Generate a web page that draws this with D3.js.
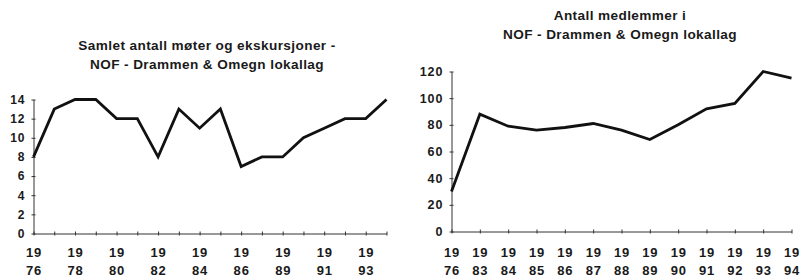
<!DOCTYPE html>
<html>
<head>
<meta charset="utf-8">
<script src="https://cdn.jsdelivr.net/npm/d3@7"></script>
<style>
  body { margin: 0; background: #fff; }
  svg { display: block; }
  text { font-family: "Liberation Sans", Arial, sans-serif; font-weight: bold; fill: #1a1a1a; }
</style>
</head>
<body>
<div id="chart"></div>
<script>
// ---- data ----
const MEET_YEARS = ["1976","1977","1978","1979","1980","1981","1982","1983","1984","1985","1986","1988","1989","1990","1991","1992","1993","1994"];
const MEET_VALUES = [8, 13, 14, 14, 12, 12, 8, 13, 11, 13, 7, 8, 8, 10, 11, 12, 12, 14];
const MEET_TICKS = [0, 2, 4, 6, 8, 10, 12, 14];

const MEMBER_YEARS = ["1976","1983","1984","1985","1986","1987","1988","1989","1990","1991","1992","1993","1994"];
const MEMBER_VALUES = [30, 88, 79, 76, 78, 81, 76, 69, 80, 92, 96, 120, 115];
const MEMBER_TICKS = [0, 20, 40, 60, 80, 100, 120];

const svg = d3.select("#chart").append("svg")
  .attr("width", 803)
  .attr("height", 278);

function drawPanel(opt) {
  const g = svg.append("g");

  const x = d3.scalePoint()
    .domain(opt.years)
    .range([opt.x0, opt.x1]);

  const y = d3.scaleLinear()
    .domain([0, opt.ymax])
    .range([opt.y0, opt.y1]);

  // title
  g.append("text")
    .attr("text-anchor", "middle")
    .style("font-size", "13.6px")
    .style("letter-spacing", "0.4px")
    .attr("fill", "#222")
    .selectAll("tspan")
    .data(opt.title)
    .join("tspan")
    .attr("x", opt.titleX)
    .attr("y", (d, i) => opt.titleY + i * 19)
    .text(d => d);

  // y axis
  const yAxis = g.append("g")
    .attr("transform", `translate(${opt.x0},0)`)
    .call(d3.axisLeft(y).tickValues(opt.yticks).tickSizeInner(4).tickSizeOuter(0).tickPadding(6));
  yAxis.selectAll(".tick line").attr("x2", 2).attr("x1", -2).attr("stroke", "#333");
  yAxis.select(".domain").attr("stroke", "#333");
  yAxis.selectAll("text")
    .style("font-size", opt.yFont)
    .style("letter-spacing", "1px")
    .attr("fill", "#1a1a1a")
    .attr("x", -8);

  // x axis
  const xAxis = g.append("g")
    .attr("transform", `translate(0,${opt.y0})`)
    .call(d3.axisBottom(x).tickSizeInner(0).tickSizeOuter(0).tickFormat(""));
  xAxis.select(".domain").attr("stroke", "#333");
  xAxis.selectAll(".tick line").attr("y1", -2).attr("y2", 2).attr("stroke", "#333");

  // x labels, two lines
  const labelYears = opt.years.filter((d, i) => i % opt.labelEvery === 0 && i < opt.years.length - (opt.skipLast ? 1 : 0));
  const lab = g.append("g").selectAll("text")
    .data(labelYears)
    .join("text")
    .attr("text-anchor", "middle")
    .style("font-size", "13px")
    .style("letter-spacing", "0.8px");
  lab.append("tspan")
    .attr("x", d => x(d) + 0.5)
    .attr("y", 257)
    .text(d => d.slice(0, 2));
  lab.append("tspan")
    .attr("x", d => x(d) + 0.5)
    .attr("y", 275)
    .text(d => d.slice(2));

  // line
  const line = d3.line()
    .x(d => x(d.year))
    .y(d => y(d.value));

  g.append("path")
    .datum(opt.years.map((yr, i) => ({ year: yr, value: opt.values[i] })))
    .attr("fill", "none")
    .attr("stroke", "#111")
    .attr("stroke-width", 2.8)
    .attr("stroke-linejoin", "miter")
    .attr("d", line);
}

drawPanel({
  years: MEET_YEARS, values: MEET_VALUES, yticks: MEET_TICKS, ymax: 14,
  x0: 33.5, x1: 386.5, y0: 233.5, y1: 99.5,
  title: ["Samlet antall møter og ekskursjoner -", "NOF - Drammen & Omegn lokallag"],
  titleX: 207, titleY: 50,
  labelEvery: 2, skipLast: true, yFont: "12px"
});

drawPanel({
  years: MEMBER_YEARS, values: MEMBER_VALUES, yticks: MEMBER_TICKS, ymax: 120,
  x0: 451.5, x1: 791.5, y0: 231.5, y1: 71.5,
  title: ["Antall medlemmer i", "NOF - Drammen & Omegn lokallag"],
  titleX: 620, titleY: 20,
  labelEvery: 1, skipLast: false, yFont: "12.5px"
});
</script>
</body>
</html>
